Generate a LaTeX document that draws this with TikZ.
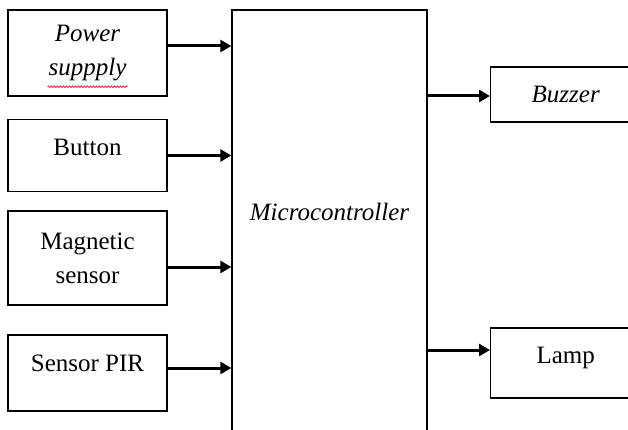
\documentclass[tikz,border=0pt]{standalone}
\usepackage{fontspec}
\setmainfont{Liberation Serif}
\usetikzlibrary{positioning, arrows.meta, decorations.pathmorphing}

\begin{document}
\begin{tikzpicture}[x=1pt, y=-1pt,
  blok/.style={draw, line width=1.4pt, minimum width=159pt, align=center, inner sep=0pt,
    font=\fontsize{25}{34}\selectfont},
  seta/.style={-{Triangle[length=11pt,width=12pt]}, line width=3pt}]

% --- moldura ---
\useasboundingbox[fill=white] (0,0) rectangle (628,430);
\clip (0,0) rectangle (628,430);

% entradas
\node[blok, minimum height=86pt, font=\fontsize{25}{34}\selectfont\itshape] (power) at (87.5,53) {Power\\suppply};
\node[blok, minimum height=72pt, text depth=16pt] (button) at (87.5,155.5) {Button};
\node[blok, minimum height=94pt] (magnet) at (87.5,258) {Magnetic\\sensor};
\node[blok, minimum height=76pt, text depth=20pt] (pir) at (87.5,373) {Sensor PIR};

% microcontrolador
\node[blok, minimum width=195pt, minimum height=440pt] (mcu) at (329.5,230) {};
\node[font=\fontsize{25}{34}\selectfont\itshape] (mcutext) at ([yshift=18]mcu.center) {Microcontroller};

% saidas
\node[blok, anchor=west, minimum width=150pt, minimum height=55pt, font=\fontsize{25}{34}\selectfont\itshape] (buzzer) at (490,94.5) {Buzzer};
\node[blok, anchor=west, minimum width=150pt, minimum height=70pt, text depth=16pt] (lamp) at (490,363) {Lamp};

% sublinhado do corretor
\draw[red!75!black, line width=0.6pt, decorate, decoration={snake, amplitude=0.9pt, segment length=3pt}]
  ([xshift=-40pt,yshift=10pt]power.south) -- ([xshift=40pt,yshift=10pt]power.south);

% setas
\coordinate (p1) at ([yshift=7]power.east);
\coordinate (p2) at (button.east);
\coordinate (p3) at ([yshift=-9]magnet.east);
\coordinate (p4) at ([yshift=5]pir.east);
\coordinate (q1) at ([yshift=-1.5]buzzer.west);
\coordinate (q2) at ([yshift=13]lamp.west);

\draw[seta] (p1) -- (p1 -| mcu.west);
\draw[seta] (p2) -- (p2 -| mcu.west);
\draw[seta] (p3) -- (p3 -| mcu.west);
\draw[seta] (p4) -- (p4 -| mcu.west);
\draw[seta] (q1 -| mcu.east) -- (q1);
\draw[seta] (q2 -| mcu.east) -- (q2);
\end{tikzpicture}
\end{document}
